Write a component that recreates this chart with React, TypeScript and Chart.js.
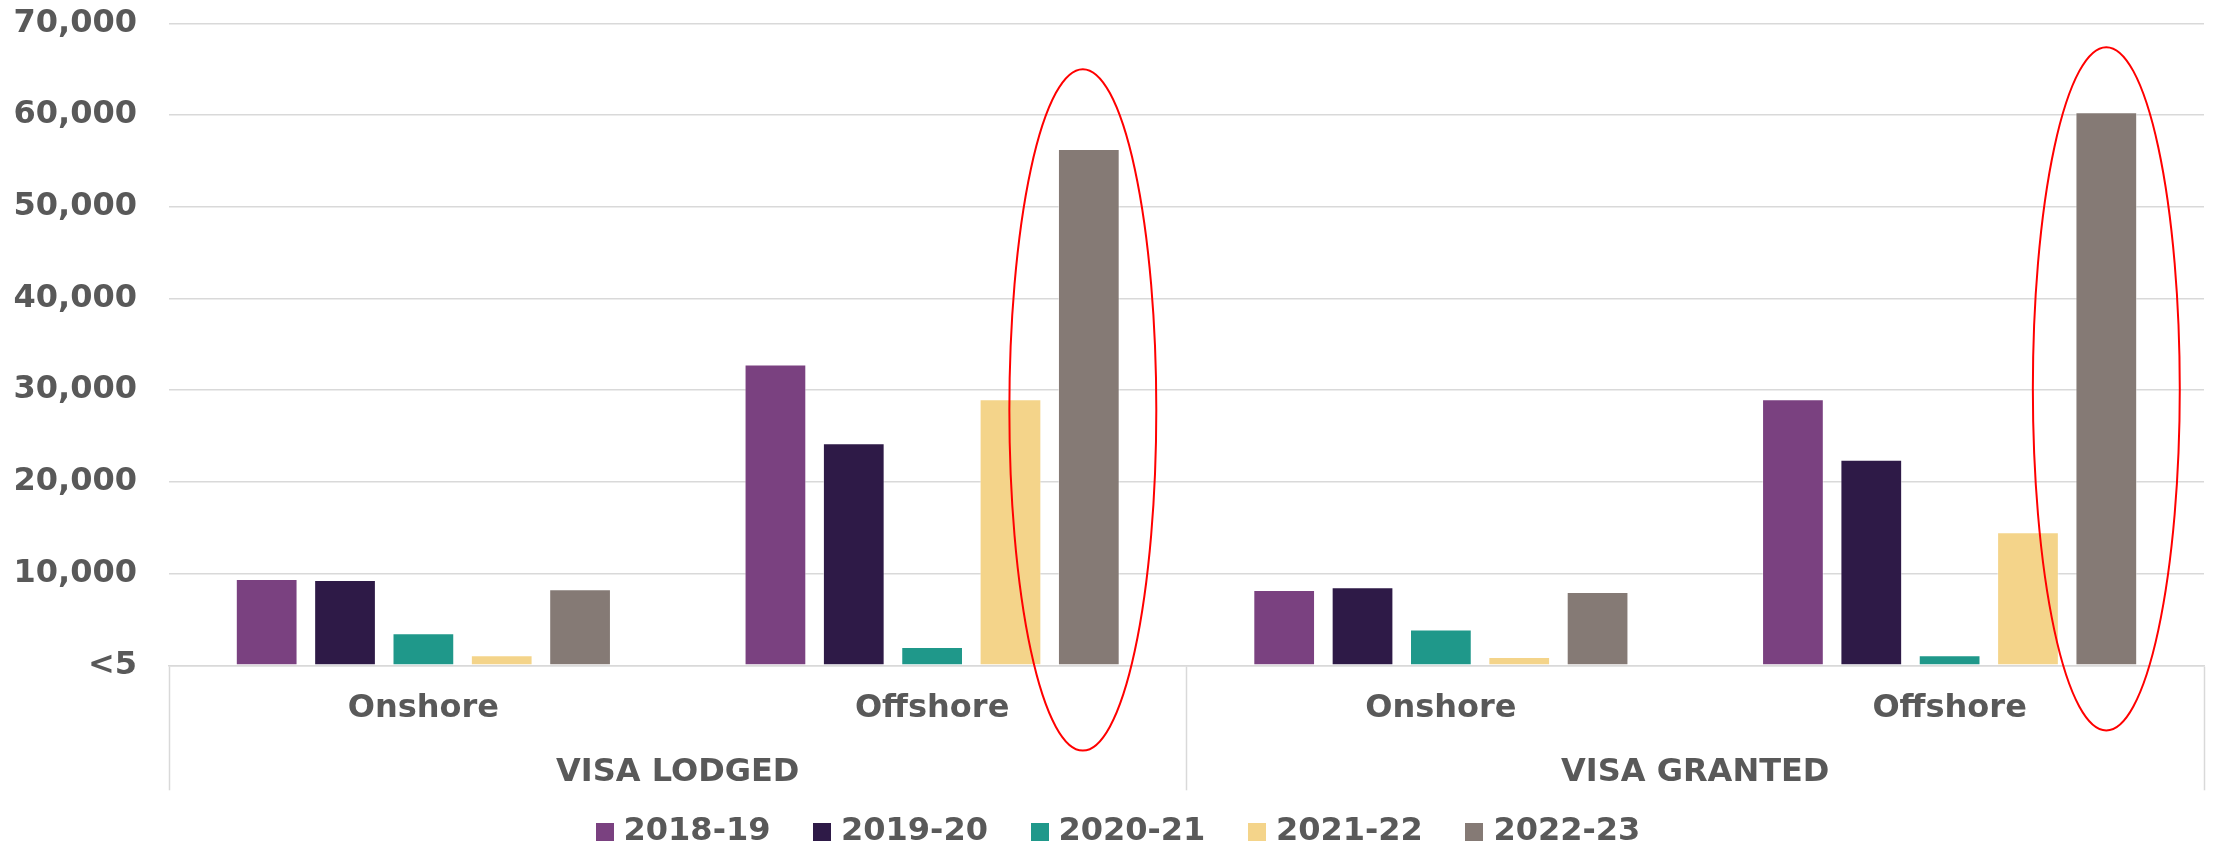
import React, { useEffect, useRef } from 'react';
import { Chart, registerables } from 'chart.js';

Chart.register(...registerables);

// ---- data ----
const categories = ['Onshore', 'Offshore', 'Onshore', 'Offshore'];
const groups = ['VISA LODGED', 'VISA GRANTED'];
const seriesNames = ['2018-19', '2019-20', '2020-21', '2021-22', '2022-23'];
const v2018_19 = [9400, 32800, 8200, 29000];
const v2019_20 = [9300, 24200, 8500, 22400];
const v2020_21 = [3500, 2000, 3900, 1100];
const v2021_22 = [1100, 29000, 900, 14500];
const v2022_23 = [8300, 56300, 8000, 60300];
const yTickLabels = ['<5', '10,000', '20,000', '30,000', '40,000', '50,000', '60,000', '70,000'];

// ---- styling ----
const seriesColors = ['#7A4180', '#2E1A47', '#1F988A', '#F4D48A', '#857A75'];
const FONT = "'DejaVu Sans', Verdana, sans-serif";
const TEXT = '#595959';
const GRID = '#d9d9d9';

// red highlight ellipses, anchored to bars (series index, category index), extents in axis values
const highlights = [
  { series: 4, index: 1, top: 65000, bottom: -9300, shift: -0.097, rx: 1.19 },
  { series: 4, index: 3, top: 67400, bottom: -7100, shift: 0, rx: 1.19 },
];

const ellipsePlugin = {
  id: 'highlightEllipses',
  afterDraw(chart: any) {
    const ctx = chart.ctx;
    const y = chart.scales.y;
    highlights.forEach((h) => {
      const el: any = chart.getDatasetMeta(h.series).data[h.index];
      if (!el) return;
      const w = el.width;
      const cx = el.x + h.shift * w;
      const top = y.getPixelForValue(h.top);
      const bottom = y.getPixelForValue(h.bottom);
      ctx.save();
      ctx.beginPath();
      ctx.ellipse(cx, (top + bottom) / 2, w * h.rx, (bottom - top) / 2, 0, 0, Math.PI * 2);
      ctx.strokeStyle = '#FF0000';
      ctx.lineWidth = 2;
      ctx.stroke();
      ctx.restore();
    });
  },
};

const noPad = (s: any) => {
  s.paddingLeft = 0;
  s.paddingRight = 0;
  s.paddingTop = 0;
  s.paddingBottom = 0;
};

function swatch(color: string) {
  const c = document.createElement('canvas');
  c.width = 18;
  c.height = 18;
  const g = c.getContext('2d');
  if (g) {
    g.fillStyle = color;
    g.fillRect(0, 0, 18, 18);
  }
  return c;
}

export default function App() {
  const ref = useRef<HTMLCanvasElement | null>(null);

  useEffect(() => {
    if (!ref.current) return;
    const seriesValues = [v2018_19, v2019_20, v2020_21, v2021_22, v2022_23];
    const swatches = seriesColors.map(swatch);
    const chart = new Chart(ref.current, {
      type: 'bar',
      data: {
        labels: categories,
        datasets: seriesNames.map((name, i) => ({
          label: name,
          data: seriesValues[i],
          backgroundColor: seriesColors[i],
          borderColor: 'rgba(255,255,255,0.45)',
          borderWidth: 1,
          xAxisID: 'x',
          yAxisID: 'y',
          categoryPercentage: 0.77,
          barPercentage: 0.788,
        })),
      },
      options: {
        responsive: false,
        animation: false,
        layout: { padding: { left: 0, right: -22.9, top: 23.3, bottom: 0 } },
        plugins: {
          tooltip: { enabled: false },
          legend: {
            position: 'bottom',
            maxHeight: 62.5,
            title: { display: true, text: '', font: { size: 10, lineHeight: 1 }, padding: { top: 0, bottom: -26.5 } },
            labels: {
              color: TEXT,
              font: { family: FONT, weight: 'bold', size: 32 },
              usePointStyle: true,
              boxWidth: 6,
              boxHeight: 18,
              padding: 48.6,
              generateLabels: (c: any) => {
                const items = Chart.defaults.plugins.legend.labels.generateLabels(c);
                return items.map((it: any, i: number) => ({ ...it, pointStyle: swatches[i], lineWidth: 0 }));
              },
            },
          },
        },
        scales: {
          x: {
            type: 'category',
            position: 'bottom',
            offset: true,
            weight: 0,
            grid: {
              display: true,
              offset: true,
              drawOnChartArea: false,
              drawTicks: true,
              tickLength: 125,
              tickWidth: 1.5,
              tickColor: (c: any) =>
                c.index === undefined || c.index % 2 === 0 ? GRID : 'rgba(0,0,0,0)',
            },
            border: { display: true, color: GRID, width: 1.5 },
            ticks: {
              color: TEXT,
              font: { family: FONT, weight: 'bold', size: 32 },
              padding: -100.8,
              autoSkip: false,
              maxRotation: 0,
              minRotation: 0,
            },
            afterFit: (s: any) => {
              s.height = 64;
              noPad(s);
            },
          },
          x2: {
            type: 'category',
            axis: 'x',
            position: 'bottom',
            labels: groups,
            offset: true,
            weight: 1,
            grid: { display: false, drawTicks: false },
            border: { display: false },
            ticks: {
              color: TEXT,
              font: { family: FONT, weight: 'bold', size: 32 },
              padding: 24,
              autoSkip: false,
              maxRotation: 0,
              minRotation: 0,
            },
            afterFit: (s: any) => {
              s.height = 54.2;
              noPad(s);
            },
          },
          y: {
            min: 0,
            max: 70000,
            grid: { color: GRID, lineWidth: 1.5, drawTicks: false },
            border: { display: false },
            ticks: {
              stepSize: 10000,
              color: TEXT,
              padding: 32,
              font: { family: FONT, weight: 'bold', size: 32 },
              callback: (_v: any, i: number) => yTickLabels[i],
            },
            afterFit: (s: any) => {
              s.width = 169;
              noPad(s);
            },
          },
          yRight: {
            type: 'linear',
            position: 'right',
            grid: { display: false, drawTicks: false },
            border: { display: false },
            ticks: { display: false },
            afterFit: (s: any) => {
              s.width = 37.9;
              noPad(s);
            },
          },
        },
      } as any,
      plugins: [ellipsePlugin],
    });
    return () => chart.destroy();
  }, []);

  return (
    <div style={{ position: 'fixed', left: 0, top: 0, width: 2219, height: 846, background: '#fff' }}>
      <canvas ref={ref} width={2219} height={846} style={{ display: 'block', width: 2219, height: 846 }} />
    </div>
  );
}
